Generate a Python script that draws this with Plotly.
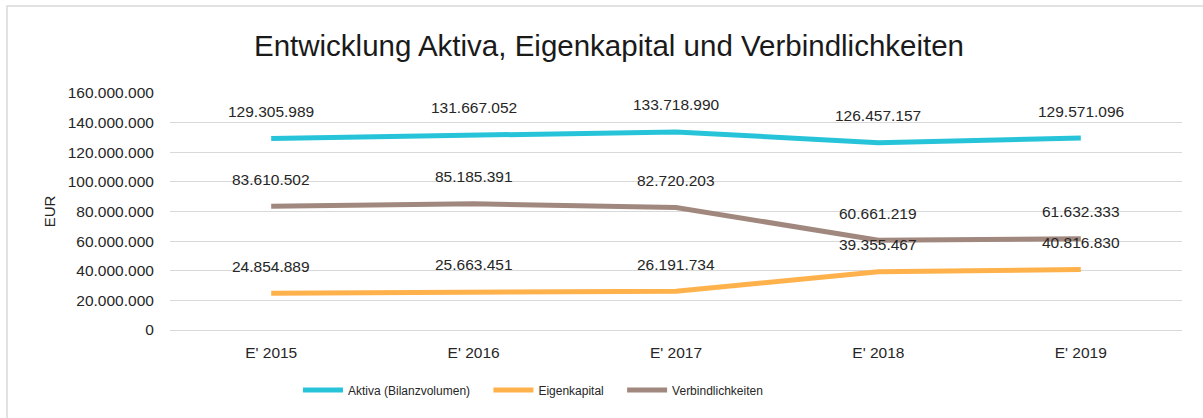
import plotly.graph_objects as go

categories = ["E' 2015", "E' 2016", "E' 2017", "E' 2018", "E' 2019"]
aktiva = [129305989, 131667052, 133718990, 126457157, 129571096]
eigenkapital = [24854889, 25663451, 26191734, 39355467, 40816830]
verbindlichkeiten = [83610502, 85185391, 82720203, 60661219, 61632333]

series_names = ["Aktiva (Bilanzvolumen)", "Eigenkapital", "Verbindlichkeiten"]
series_values = [aktiva, eigenkapital, verbindlichkeiten]
series_colors = ["#27C4D9", "#FFB24C", "#A1887E"]

def fmt(v):
    return f"{v:,}".replace(",", ".")

W, H = 1203, 418
PL, PR, PT, PB = 170, 1182, 93, 330  # plot area in pixels
L, R, T, B = PL, W - PR, PT, H - PB
pw, ph = PR - PL, PB - PT

def px_x(x):
    return (x - PL) / pw

def px_y(y):
    return (PB - y) / ph

PAD = "\u00a0" * 4

fig = go.Figure()
annotations = []
for i, (name, vals, color) in enumerate(zip(series_names, series_values, series_colors)):
    label = name + (PAD if i < len(series_names) - 1 else "")
    fig.add_trace(go.Scatter(
        x=categories, y=vals, name=label, mode="lines",
        line=dict(color=color, width=5),
    ))
    for c, v in zip(categories, vals):
        annotations.append(dict(
            x=c, y=v, xref="x", yref="y", text=fmt(v), showarrow=False,
            yshift=27, font=dict(size=15.5, color="#262626", family="Liberation Sans, Arial"),
        ))

fig.update_layout(
    width=W, height=H,
    margin=dict(l=L, r=R, t=T, b=B),
    paper_bgcolor="white", plot_bgcolor="white",
    separators=",.",
    font=dict(family="Liberation Sans, Arial", color="#262626"),
    title=dict(
        text="Entwicklung Aktiva, Eigenkapital und Verbindlichkeiten",
        x=609 / W, xref="container", xanchor="center",
        y=1 - 46 / H, yref="container", yanchor="middle",
        font=dict(size=29.5, color="#1a1a1a"),
    ),
    xaxis=dict(
        type="category", range=[-0.5, 4.5], showgrid=False, zeroline=False,
        showline=False, ticks="outside", ticklen=8, tickcolor="rgba(0,0,0,0)",
        tickfont=dict(size=15.5, color="#262626"),
    ),
    yaxis=dict(
        range=[0, 160000000], dtick=20000000, tickformat=",d",
        showgrid=True, gridcolor="#d9d9d9", gridwidth=1.3,
        zeroline=True, zerolinecolor="#d9d9d9", zerolinewidth=1.3,
        showline=False, ticks="outside", ticklen=12, tickcolor="rgba(0,0,0,0)",
        tickfont=dict(size=15.5, color="#262626"),
        title=dict(text="EUR", font=dict(size=15, color="#262626"), standoff=8),
    ),
    legend=dict(
        orientation="h", x=px_x(298), xanchor="left", y=px_y(390), yanchor="middle",
        font=dict(size=12, color="#262626", family="Liberation Sans, Arial"),
        itemwidth=40, bgcolor="rgba(0,0,0,0)",
    ),
    annotations=annotations,
    shapes=[dict(
        type="rect", xref="paper", yref="paper",
        x0=px_x(7), x1=px_x(1300), y0=px_y(6), y1=px_y(500),
        line=dict(color="#d9d9d9", width=1.5), fillcolor="rgba(0,0,0,0)", layer="below",
    )],
)

fig.write_html(
    "out.html",
    config={"displayModeBar": False},
    post_script="document.body.style.margin='0';document.body.style.overflow='hidden';",
)
